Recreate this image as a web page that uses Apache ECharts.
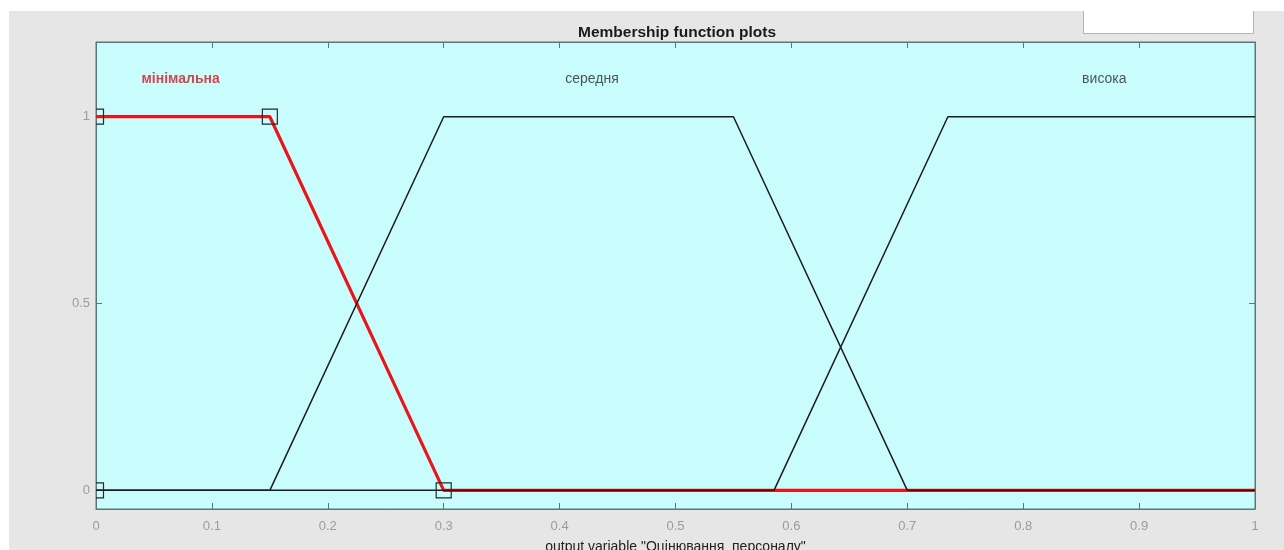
<!DOCTYPE html>
<html>
<head>
<meta charset="utf-8">
<script src="https://cdn.jsdelivr.net/npm/echarts@6/dist/echarts.min.js"></script>
<style>
html,body{margin:0;padding:0;background:#ffffff;}
#bg{position:absolute;left:9px;top:11px;width:1275px;height:539px;background:#e6e6e6;}
#box{position:absolute;left:1083px;top:11px;width:169px;height:22px;background:#ffffff;border:1px solid #b4b4b4;border-top:none;}
#chart{position:absolute;left:0;top:0;width:1284px;height:550px;}
</style>
</head>
<body>
<div id="bg"></div>
<div id="box"></div>
<div id="chart"></div>
<script>
// Membership functions (vertices of the plotted curves)
const minX = [0, 0.15, 0.3, 1];
const minY = [1, 1, 0, 0];
const midX = [0, 0.15, 0.3, 0.55, 0.7, 1];
const midY = [0, 0, 1, 1, 0, 0];
const highX = [0, 0.585, 0.735, 1];
const highY = [0, 0, 1, 1];
// parameter markers of the selected MF (мінімальна)
const markX = [0, 0, 0.15, 0.3];
const markY = [0, 1, 1, 0];
// MF names
const mfNames = ['мінімальна', 'середня', 'висока'];
const mfLabelX = [0.073, 0.428, 0.87];
const mfLabelY = [1.1, 1.1, 1.1];
// tick labels
const xTicks = ['0','0.1','0.2','0.3','0.4','0.5','0.6','0.7','0.8','0.9','1'];
const yTicks = [0, 0.5, 1];

const zip = (xs, ys) => xs.map((x, i) => [x, ys[i]]);
const FONT = '"Liberation Sans", Arial, Helvetica, sans-serif';

const chart = echarts.init(document.getElementById('chart'), null, {renderer: 'canvas'});
const axisLineStyle = {color: '#5f7575', width: 1};
chart.setOption({
  backgroundColor: 'transparent',
  animation: false,
  title: {
    text: 'Membership function plots',
    left: 573,
    top: 20,
    textStyle: {fontFamily: FONT, fontSize: 15.5, fontWeight: 'bold', color: '#1a1a1a'}
  },
  grid: {
    left: 96, right: 29, top: 42, bottom: 41,
    outerBoundsMode: 'none', containLabel: false,
    show: true, backgroundColor: '#c9fdfd', borderColor: '#5f7575', borderWidth: 1
  },
  xAxis: [{
    type: 'value', min: 0, max: 1, interval: 0.1, position: 'bottom',
    axisLine: {show: true, onZero: false, lineStyle: axisLineStyle},
    axisTick: {show: true, inside: true, length: 6, lineStyle: axisLineStyle},
    axisLabel: {
      show: true, margin: 11, color: '#9c9c9c', fontFamily: FONT, fontSize: 13,
      formatter: (v) => xTicks[Math.round(v * 10)] ?? ''
    },
    splitLine: {show: false},
    name: 'output variable "Оцінювання  персоналу"',
    nameLocation: 'middle', nameGap: 31,
    nameTextStyle: {fontFamily: FONT, fontSize: 14, color: '#222222'}
  }, {
    type: 'value', min: 0, max: 1, interval: 0.1, position: 'top',
    axisLine: {show: true, onZero: false, lineStyle: axisLineStyle},
    axisTick: {show: true, inside: true, length: 6, lineStyle: axisLineStyle},
    axisLabel: {show: false}, splitLine: {show: false}
  }],
  yAxis: [{
    type: 'value', min: -0.05, max: 1.2, position: 'left',
    axisLine: {show: true, onZero: false, lineStyle: axisLineStyle},
    axisTick: {show: true, inside: true, length: 6, lineStyle: axisLineStyle, customValues: yTicks},
    axisLabel: {show: true, margin: 6, color: '#9c9c9c', fontFamily: FONT, fontSize: 13, customValues: yTicks},
    splitLine: {show: false}
  }, {
    type: 'value', min: -0.05, max: 1.2, position: 'right',
    axisLine: {show: true, onZero: false, lineStyle: axisLineStyle},
    axisTick: {show: true, inside: true, length: 6, lineStyle: axisLineStyle, customValues: yTicks},
    axisLabel: {show: false}, splitLine: {show: false}
  }],
  series: [
    {
      type: 'line', data: zip(minX, minY), symbol: 'none', z: 2,
      lineStyle: {color: '#e8161a', width: 3.2}, clip: true
    },
    {
      type: 'line', data: zip(midX, midY), symbol: 'none', z: 3,
      lineStyle: {color: '#1c1c1c', width: 1.5}, clip: true
    },
    {
      type: 'line', data: zip(highX, highY), symbol: 'none', z: 3,
      lineStyle: {color: '#1c1c1c', width: 1.5}, clip: true
    },
    {
      type: 'custom', z: 4, clip: true,
      data: zip(markX, markY),
      renderItem: (params, api) => {
        const p = api.coord([api.value(0), api.value(1)]);
        const s = 15;
        return {
          type: 'rect',
          shape: {x: p[0] - s / 2, y: p[1] - s / 2, width: s, height: s},
          style: {fill: 'none', stroke: '#1f2d2d', lineWidth: 1.2}
        };
      }
    },
    {
      type: 'scatter', symbolSize: 0, z: 5,
      data: mfNames.map((n, i) => ({
        value: [mfLabelX[i], mfLabelY[i]],
        name: n,
        label: i === 0
          ? {color: '#d4161b', fontWeight: 'bold'}
          : {color: '#2a2a2a', fontWeight: 'normal'}
      })),
      label: {
        show: true, position: 'inside', formatter: (p) => p.name,
        fontFamily: FONT, fontSize: 14
      }
    }
  ]
});
</script>
</body>
</html>
